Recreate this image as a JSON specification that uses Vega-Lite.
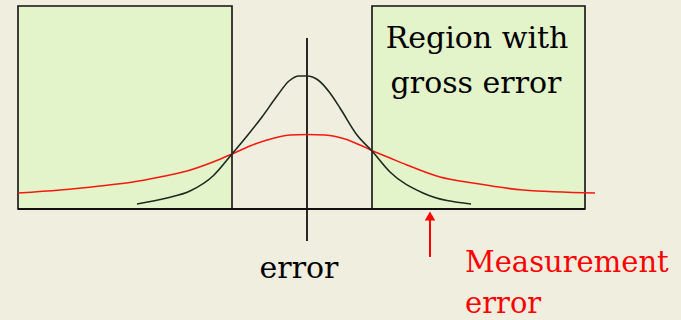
{
  "$schema": "https://vega.github.io/schema/vega-lite/v6.json",
  "width": 681,
  "height": 320,
  "padding": 0,
  "autosize": {"type": "fit", "contains": "padding"},
  "background": "#EFEEDF",
  "config": {"view": {"stroke": null}},
  "layer": [
    {
      "data": {"values": [
        {"region": "left", "x": -5.78, "x2": -1.5, "y": 0, "y2": 0.406},
        {"region": "right", "x": 1.3, "x2": 5.56, "y": 0, "y2": 0.406}
      ]},
      "mark": {"type": "rect", "fill": "#E3F3CA", "stroke": "#111111", "strokeWidth": 1.6},
      "encoding": {
        "x": {"field": "x", "type": "quantitative", "scale": {"domain": [-6.14, 7.48], "nice": false, "zero": false}, "axis": null},
        "x2": {"field": "x2"},
        "y": {"field": "y", "type": "quantitative", "scale": {"domain": [-0.222, 0.418], "nice": false, "zero": false}, "axis": null},
        "y2": {"field": "y2"}
      }
    },
    {
      "data": {"values": [
        {"x": -5.78, "x2": 5.56, "y": 0, "y2": 0},
        {"x": 0, "x2": 0, "y": -0.064, "y2": 0.342}
      ]},
      "mark": {"type": "rule", "color": "#111111", "strokeWidth": 1.8},
      "encoding": {
        "x": {"field": "x", "type": "quantitative"},
        "x2": {"field": "x2"},
        "y": {"field": "y", "type": "quantitative"},
        "y2": {"field": "y2"}
      }
    },
    {
      "data": {"values": [
        {"x": -5.78, "y": 0.032}, {"x": -4.94, "y": 0.038}, {"x": -4.14, "y": 0.046},
        {"x": -3.48, "y": 0.054}, {"x": -2.94, "y": 0.064}, {"x": -2.4, "y": 0.076},
        {"x": -1.88, "y": 0.094}, {"x": -1.5, "y": 0.11}, {"x": -1.14, "y": 0.126},
        {"x": -0.8, "y": 0.138}, {"x": -0.34, "y": 0.148}, {"x": 0, "y": 0.149},
        {"x": 0.36, "y": 0.148}, {"x": 0.76, "y": 0.14}, {"x": 1.06, "y": 0.128},
        {"x": 1.32, "y": 0.116}, {"x": 1.66, "y": 0.102}, {"x": 2.0, "y": 0.088},
        {"x": 2.66, "y": 0.064}, {"x": 3.32, "y": 0.052}, {"x": 4.32, "y": 0.038},
        {"x": 5.76, "y": 0.032}
      ]},
      "mark": {"type": "line", "color": "#F41A10", "strokeWidth": 1.6, "interpolate": "monotone"},
      "encoding": {
        "x": {"field": "x", "type": "quantitative"},
        "y": {"field": "y", "type": "quantitative"}
      }
    },
    {
      "data": {"values": [
        {"x": -3.4, "y": 0.01}, {"x": -2.8, "y": 0.022}, {"x": -2.34, "y": 0.036},
        {"x": -1.88, "y": 0.066}, {"x": -1.5, "y": 0.11}, {"x": -1.2, "y": 0.146},
        {"x": -0.9, "y": 0.184}, {"x": -0.6, "y": 0.226}, {"x": -0.36, "y": 0.256},
        {"x": -0.16, "y": 0.266}, {"x": 0, "y": 0.266},
        {"x": 0.22, "y": 0.258}, {"x": 0.46, "y": 0.232}, {"x": 0.66, "y": 0.202},
        {"x": 1.0, "y": 0.148}, {"x": 1.3, "y": 0.116}, {"x": 1.66, "y": 0.074},
        {"x": 2.32, "y": 0.032}, {"x": 3.28, "y": 0.01}
      ]},
      "mark": {"type": "line", "color": "#1E2A1E", "strokeWidth": 1.6, "interpolate": "monotone"},
      "encoding": {
        "x": {"field": "x", "type": "quantitative"},
        "y": {"field": "y", "type": "quantitative"}
      }
    },
    {
      "data": {"values": [{"x": 2.46, "y": -0.096, "y2": -0.02}]},
      "mark": {"type": "rule", "color": "#FF0000", "strokeWidth": 2},
      "encoding": {
        "x": {"field": "x", "type": "quantitative"},
        "y": {"field": "y", "type": "quantitative"},
        "y2": {"field": "y2"}
      }
    },
    {
      "data": {"values": [{"x": 2.46, "y": -0.014}]},
      "mark": {"type": "point", "shape": "triangle-up", "filled": true, "color": "#FF0000", "size": 110, "opacity": 1},
      "encoding": {
        "x": {"field": "x", "type": "quantitative"},
        "y": {"field": "y", "type": "quantitative"}
      }
    },
    {
      "data": {"values": [
        {"label": "Region with", "x": 3.4, "y": 0.322},
        {"label": "gross error", "x": 3.38, "y": 0.232},
        {"label": "error", "x": -0.16, "y": -0.138}
      ]},
      "mark": {"type": "text", "font": "DejaVu Serif", "fontSize": 30, "align": "center", "baseline": "alphabetic", "color": "#000000"},
      "encoding": {
        "x": {"field": "x", "type": "quantitative"},
        "y": {"field": "y", "type": "quantitative"},
        "text": {"field": "label"}
      }
    },
    {
      "data": {"values": [
        {"label": "Measurement", "x": 3.16, "y": -0.126},
        {"label": "error", "x": 3.16, "y": -0.208}
      ]},
      "mark": {"type": "text", "font": "DejaVu Serif", "fontSize": 29, "align": "left", "baseline": "alphabetic", "color": "#FF0000"},
      "encoding": {
        "x": {"field": "x", "type": "quantitative"},
        "y": {"field": "y", "type": "quantitative"},
        "text": {"field": "label"}
      }
    }
  ]
}
